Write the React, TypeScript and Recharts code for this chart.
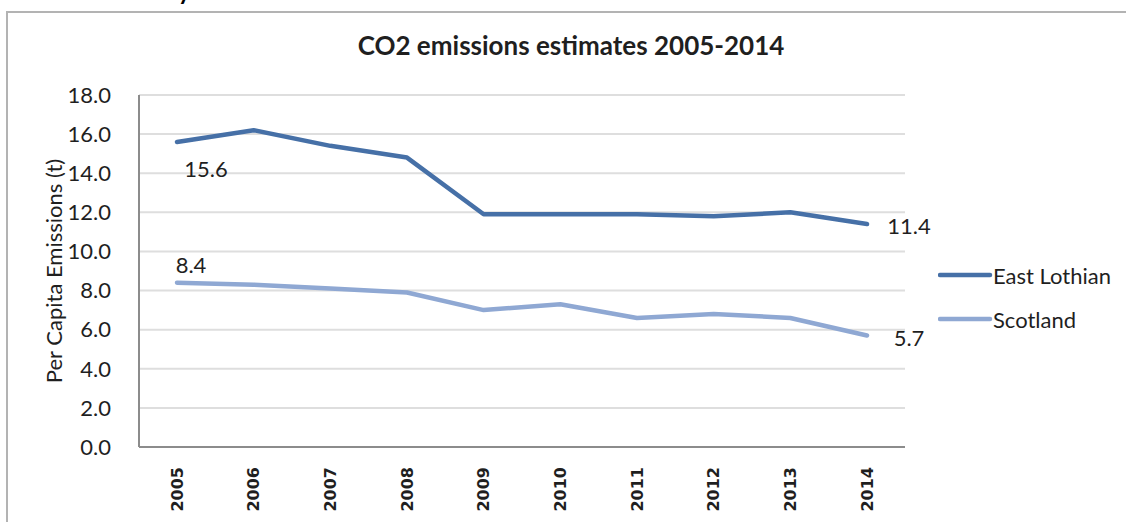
import { LineChart, Line, XAxis, YAxis, CartesianGrid, Legend } from 'recharts';

const years = ['2005', '2006', '2007', '2008', '2009', '2010', '2011', '2012', '2013', '2014'];
const eastLothian = [15.6, 16.2, 15.4, 14.8, 11.9, 11.9, 11.9, 11.8, 12.0, 11.4];
const scotland = [8.4, 8.3, 8.1, 7.9, 7.0, 7.3, 6.6, 6.8, 6.6, 5.7];
const yTicks = [0, 2, 4, 6, 8, 10, 12, 14, 16, 18];

const data = years.map((year, i) => ({ year, eastLothian: eastLothian[i], scotland: scotland[i] }));

const DARK = '#4670A7';
const LIGHT = '#8FA8D3';
const FONT = 'Lato, "Noto Sans", sans-serif';
const TEXT = '#1f1f1f';

const YearTick = ({ x, y, payload }: any) => (
  <text
    transform={`translate(${x},${y + 12}) rotate(-90)`}
    textAnchor="end"
    dominantBaseline="central"
    fontFamily='"DejaVu Sans", sans-serif'
    fontWeight={700}
    fontSize={16}
    fill={TEXT}
  >
    {payload.value}
  </text>
);

const endLabel = (first: { dx: number; dy: number }, last: { dx: number; dy: number }) =>
  (props: any) => {
    const { x, y, value, index } = props;
    if (index !== 0 && index !== years.length - 1) return null;
    const o = index === 0 ? first : last;
    return (
      <text
        x={x + o.dx}
        y={y + o.dy}
        textAnchor="middle"
        dominantBaseline="central"
        fontFamily={FONT}
        fontSize={22}
        fill={TEXT}
      >
        {value.toFixed(1)}
      </text>
    );
  };

const LegendBox = () => (
  <div style={{ fontFamily: FONT, fontSize: 22, color: TEXT }}>
    {[
      { name: 'East Lothian', color: DARK },
      { name: 'Scotland', color: LIGHT },
    ].map((s) => (
      <div key={s.name} style={{ display: 'flex', alignItems: 'center', height: 44 }}>
        <svg width={55} height={10}>
          <line x1={2} y1={5} x2={52} y2={5} stroke={s.color} strokeWidth={4.5} strokeLinecap="round" />
        </svg>
        <span>{s.name}</span>
      </div>
    ))}
  </div>
);

export default function App() {
  return (
    <div style={{ position: 'absolute', left: 0, top: 0, width: 1126, height: 522, overflow: 'hidden', background: '#fff' }}>
      <div
        style={{
          position: 'absolute',
          left: 6,
          top: 11,
          width: 1200,
          height: 600,
          borderTop: '2px solid #b3b3b3',
          borderLeft: '2px solid #b3b3b3',
        }}
      />
      <div style={{ position: 'absolute', left: 178, top: -24, fontFamily: FONT, fontWeight: 700, fontSize: 24 }}>y</div>
      <div
        style={{
          position: 'absolute',
          left: 0,
          width: 1142,
          top: 29,
          textAlign: 'center',
          fontFamily: FONT,
          fontWeight: 700,
          fontSize: 26,
          color: TEXT,
        }}
      >
        CO2 emissions estimates 2005-2014
      </div>
      <div style={{ position: 'absolute', left: 0, top: 0 }}>
        <LineChart width={1126} height={522} data={data} margin={{ top: 95, right: 221, bottom: 0, left: 0 }}>
          <CartesianGrid vertical={false} stroke="#dedede" strokeWidth={2} />
          <XAxis
            dataKey="year"
            height={75}
            tick={<YearTick />}
            tickLine={false}
            axisLine={{ stroke: '#8c8c8c', strokeWidth: 2 }}
            interval={0}
            padding={{ left: 38, right: 38 }}
          />
          <YAxis
            width={139}
            domain={[0, 18]}
            ticks={yTicks}
            tickFormatter={(v: number) => v.toFixed(1)}
            tick={{ fontFamily: FONT, fontSize: 22, fill: TEXT }}
            tickLine={false}
            tickMargin={22}
            axisLine={{ stroke: '#8c8c8c', strokeWidth: 2 }}
            label={{
              value: 'Per Capita Emissions (t)',
              angle: -90,
              position: 'center',
              dx: -15,
              style: { fontFamily: FONT, fontSize: 22, fill: TEXT, textAnchor: 'middle' },
            }}
          />
          <Legend
            layout="vertical"
            align="center"
            verticalAlign="middle"
            wrapperStyle={{ left: 938, top: 253, width: 190 }}
            content={<LegendBox />}
          />
          <Line
            dataKey="eastLothian"
            name="East Lothian"
            stroke={DARK}
            strokeWidth={4.5}
            strokeLinejoin="round"
            strokeLinecap="round"
            dot={false}
            isAnimationActive={false}
            label={endLabel({ dx: 29, dy: 27 }, { dx: 42, dy: 1 })}
          />
          <Line
            dataKey="scotland"
            name="Scotland"
            stroke={LIGHT}
            strokeWidth={4.5}
            strokeLinejoin="round"
            strokeLinecap="round"
            dot={false}
            isAnimationActive={false}
            label={endLabel({ dx: 14, dy: -18 }, { dx: 42, dy: 2 })}
          />
        </LineChart>
      </div>
    </div>
  );
}
